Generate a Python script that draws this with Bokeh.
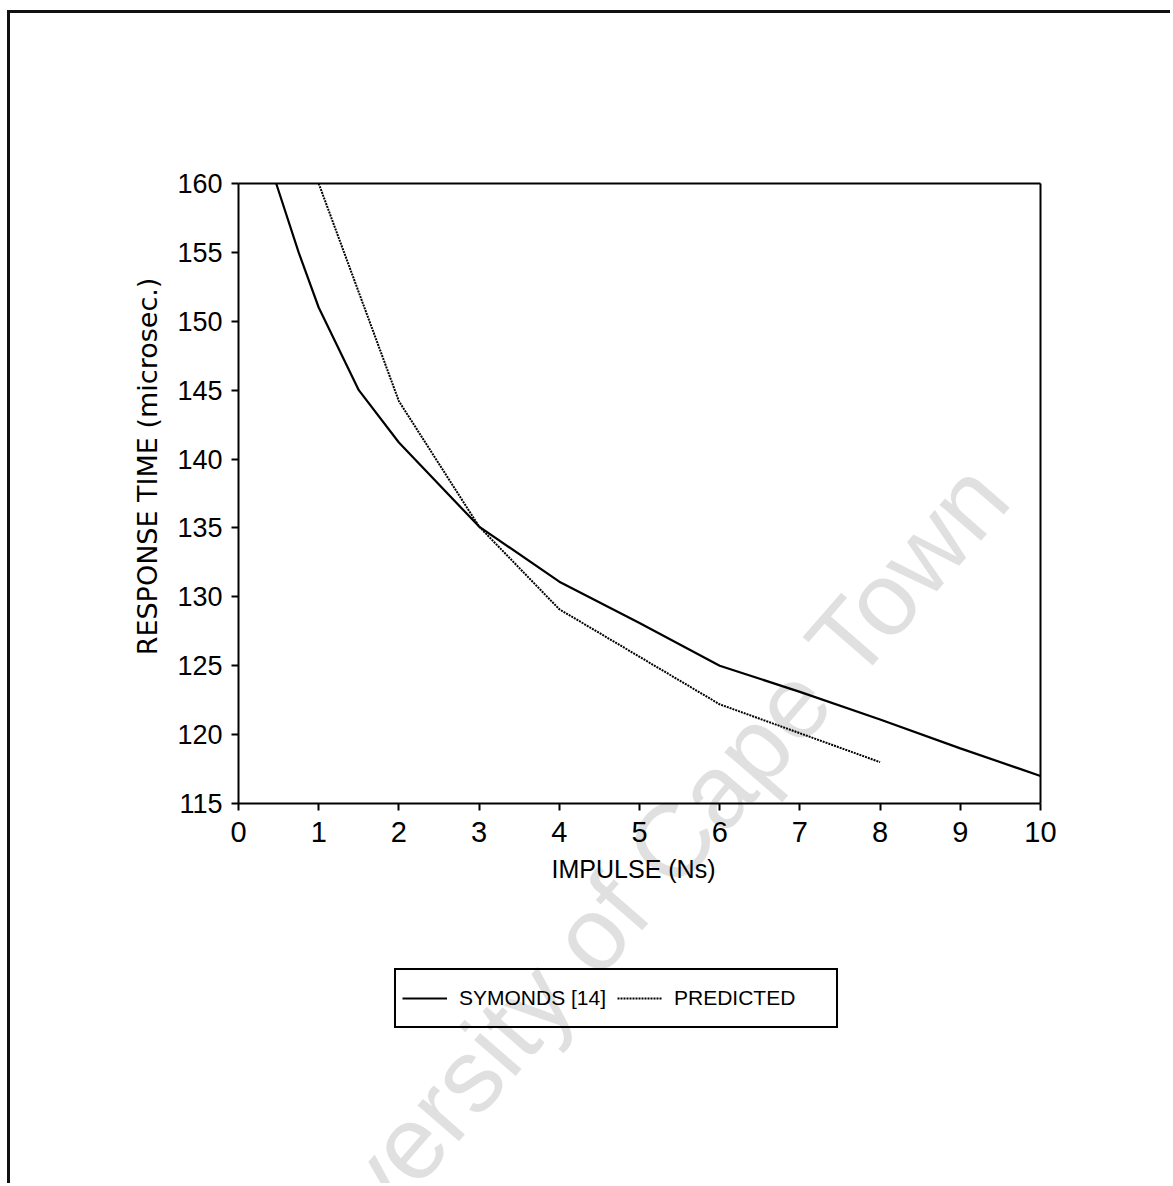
from bokeh.plotting import figure
from bokeh.models import Legend, LegendItem, Label, FixedTicker, Range1d, LinearAxis
from bokeh.embed import file_html
from bokeh.resources import INLINE

# Impulse (Ns) against response time (microseconds)
symonds_x = [0.47, 0.75, 1.0, 1.5, 2.0, 3.0, 4.0, 5.0, 6.0, 7.0, 8.0, 9.0, 10.0]
symonds_y = [160.0, 155.0, 151.0, 145.0, 141.2, 135.1, 131.1, 128.1, 125.0, 123.1, 121.1, 119.0, 117.0]

predicted_x = [1.0, 2.0, 3.0, 4.0, 6.0, 7.0, 8.0]
predicted_y = [160.0, 144.2, 135.1, 129.1, 122.2, 120.1, 118.0]

x_ticks = [0, 1, 2, 3, 4, 5, 6, 7, 8, 9, 10]
y_ticks = [115, 120, 125, 130, 135, 140, 145, 150, 155, 160]

X_MIN, X_MAX = x_ticks[0], x_ticks[-1]
Y_MIN, Y_MAX = y_ticks[0], y_ticks[-1]

# page geometry (pixels from the top-left of the page)
PAGE_W, PAGE_H = 1173, 1186
OFF_X, OFF_Y = 10, 13                      # left/top rule of the sheet
BOX_L, BOX_R, BOX_T, BOX_B = 238, 1040, 183, 803   # axes box

W, H = PAGE_W - OFF_X, PAGE_H - OFF_Y
ux = (BOX_R - BOX_L) / (X_MAX - X_MIN)     # pixels per Ns
uy = (BOX_B - BOX_T) / (Y_MAX - Y_MIN)     # pixels per microsecond

# the plotting frame covers the whole canvas; axes are pinned to the box
x_range = Range1d(X_MIN - (BOX_L - OFF_X) / ux, X_MAX + (PAGE_W - BOX_R) / ux)
y_range = Range1d(Y_MIN - (PAGE_H - BOX_B) / uy, Y_MAX + (BOX_T - OFF_Y) / uy)

p = figure(width=W, height=H, output_backend="svg", toolbar_location=None,
           x_range=x_range, y_range=y_range, min_border=0)
p.styles = {"margin-left": "7px", "margin-top": "10px",
            "border-left": "3px solid #111", "border-top": "3px solid #111"}
p.grid.visible = False
p.background_fill_color = "white"
p.border_fill_color = "white"
p.outline_line_color = None

xax = p.xaxis[0]
yax = p.yaxis[0]
xax.fixed_location = Y_MIN
yax.fixed_location = X_MIN
xax.bounds = (X_MIN, X_MAX)
yax.bounds = (Y_MIN, Y_MAX)

for ax in (xax, yax):
    ax.axis_line_width = 2
    ax.axis_line_color = "black"
    ax.major_tick_line_width = 2
    ax.major_tick_line_color = "black"
    ax.major_tick_out = 7
    ax.major_tick_in = 0
    ax.minor_tick_line_color = None
    ax.major_label_text_color = "black"

xax.ticker = FixedTicker(ticks=x_ticks)
yax.ticker = FixedTicker(ticks=y_ticks)

xax.major_label_text_font = "Liberation Sans"
xax.major_label_text_font_size = "29px"
xax.major_label_standoff = 11

yax.major_label_text_font = "Liberation Sans"
yax.major_label_text_font_size = "27px"
yax.major_label_standoff = 9

# closing edges of the axes box
top_edge = LinearAxis(fixed_location=Y_MAX, bounds=(X_MIN, X_MAX),
                      ticker=FixedTicker(ticks=[]), axis_line_width=2,
                      axis_line_color="black", minor_tick_line_color=None)
right_edge = LinearAxis(fixed_location=X_MAX, bounds=(Y_MIN, Y_MAX),
                        ticker=FixedTicker(ticks=[]), axis_line_width=2,
                        axis_line_color="black", minor_tick_line_color=None)
p.add_layout(top_edge, "above")
p.add_layout(right_edge, "right")

# axis titles
p.add_layout(Label(x=633 - OFF_X, y=PAGE_H - 868, x_units="screen", y_units="screen",
                   text="IMPULSE (Ns)", text_align="center", text_baseline="middle",
                   text_font="Liberation Sans", text_font_size="25px",
                   text_color="black"))
p.add_layout(Label(x=147 - OFF_X, y=PAGE_H - 466, x_units="screen", y_units="screen",
                   text="RESPONSE TIME (microsec.)", angle=90, angle_units="deg",
                   text_align="center", text_baseline="middle",
                   text_font="DejaVu Sans", text_font_size="27px",
                   text_color="black"))

r_sym = p.line(symonds_x, symonds_y, line_color="black", line_width=2.2)
r_pred = p.line(predicted_x, predicted_y, line_color="black", line_width=2,
                line_dash="2 1")

legend = Legend(items=[LegendItem(label="SYMONDS [14]", renderers=[r_sym]),
                       LegendItem(label="PREDICTED", renderers=[r_pred])],
                orientation="horizontal",
                location=(394 - OFF_X, PAGE_H - 1028),
                label_text_font="Liberation Sans",
                label_text_font_size="21px", label_text_color="black",
                label_standoff=12, label_width=156, glyph_width=45,
                glyph_height=44, spacing=2, padding=6, margin=0,
                border_line_color="black", border_line_width=2,
                border_line_alpha=1, background_fill_alpha=0)
p.add_layout(legend, "center")

# Watermark across the sheet
wm = Label(x=620 - OFF_X, y=PAGE_H - 900, x_units="screen", y_units="screen",
           text="University of Cape Town", angle=49, angle_units="deg",
           text_align="center", text_baseline="middle",
           text_font="Liberation Sans", text_font_size="104px",
           text_color="black", text_alpha=0.12, level="annotation")
p.add_layout(wm)

open("out.html", "w").write(file_html(p, INLINE))
